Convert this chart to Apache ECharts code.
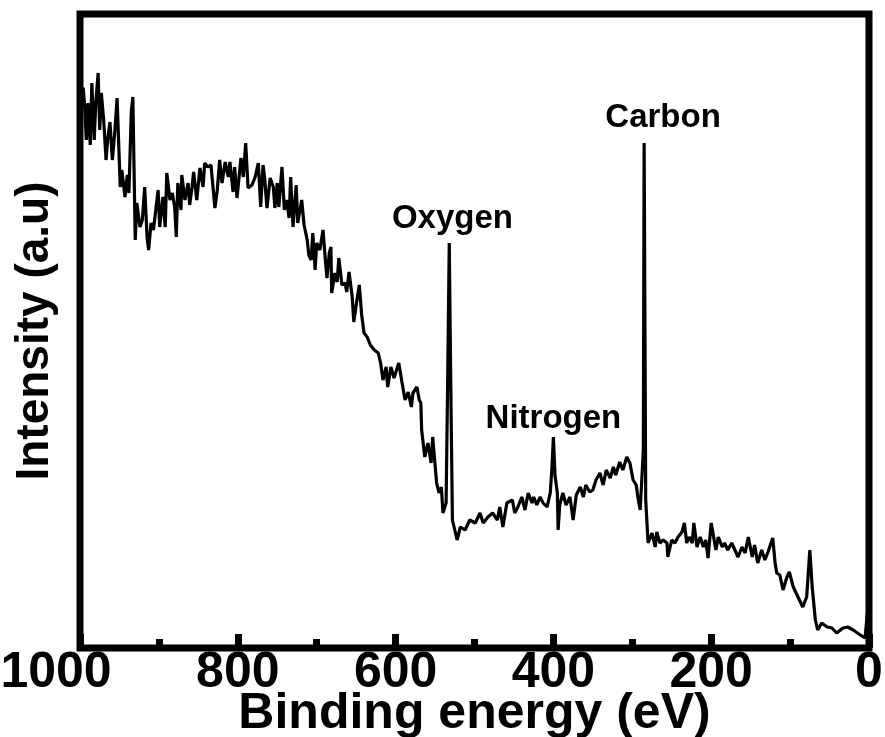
<!DOCTYPE html>
<html lang="en">
<head>
  <meta charset="UTF-8">
  <title>XPS survey spectrum</title>
  <script src="https://cdn.jsdelivr.net/npm/echarts@6/dist/echarts.min.js"></script>
  <style>
    html, body { margin: 0; padding: 0; background: #fff; }
    #chart { width: 885px; height: 737px; }
  </style>
</head>
<body>
  <div id="chart"></div>
  <script>
    var energy = [
      999, 996, 994, 992, 990, 987, 985, 982, 980, 977, 975, 973, 970, 967, 965, 962, 959, 956, 953, 949,
      947, 943, 940, 938, 935, 933, 930, 928, 924, 921, 918, 915, 913, 910, 907, 905, 901, 899, 895, 892,
      890, 886, 883, 880, 878, 876, 872, 871, 867, 863, 861, 858, 856, 852, 848, 844, 842, 838, 834, 829,
      826, 823, 820, 816, 812, 810, 806, 804, 801, 796, 793, 790, 787, 782, 778, 774, 771, 768, 766, 763,
      759, 755, 753, 750, 748, 744, 741, 738, 735, 733, 730, 726, 724, 719, 716, 712, 710, 707, 705, 702,
      700, 696, 692, 689, 687, 684, 682, 681, 677, 674, 672, 668, 664, 662, 659, 655, 653, 649, 646, 643,
      640, 636, 632, 627, 622, 619, 616, 612, 610, 606, 602, 598, 596, 592, 588, 584, 580, 578, 573, 570,
      568, 567, 563, 559, 555, 553, 548, 545, 542, 540, 536, 534, 532, 530, 528, 525, 522, 518, 512, 506,
      499, 493, 489, 483, 477, 471, 468, 464, 459, 452, 449, 445, 440, 436, 432, 427, 425, 421, 417, 413,
      408, 404, 402, 400, 398, 395, 394, 392, 388, 384, 379, 375, 371, 366, 362, 359, 354, 350, 346, 341,
      337, 333, 328, 324, 321, 316, 312, 307, 303, 299, 295, 293, 290, 286, 285, 283, 280, 275, 271, 269,
      265, 261, 256, 255, 250, 246, 242, 237, 234, 231, 228, 224, 222, 218, 214, 210, 207, 204, 200, 198,
      194, 191, 186, 183, 179, 174, 170, 166, 161, 157, 153, 148, 145, 141, 136, 132, 128, 122, 119, 117,
      113, 109, 104, 101, 96, 90, 84, 79, 75, 72, 68, 65, 60, 53, 47, 41, 33, 27, 20, 11,
      5, 2
    ];
    // intensity (a.u.)
    var intensity = [
      558, 560, 541, 508, 545, 503, 565, 508, 545, 575, 518, 555, 528, 488, 508, 526, 488, 515, 550, 461,
      478, 451, 473, 455, 536, 551, 408, 445, 421, 428, 461, 411, 398, 425, 418, 431, 458, 421, 451, 421,
      475, 448, 455, 441, 411, 465, 438, 473, 448, 465, 443, 461, 476, 448, 480, 461, 485, 481, 483, 440,
      458, 488, 465, 486, 471, 486, 456, 481, 450, 490, 471, 505, 460, 463, 471, 485, 441, 483, 470, 440,
      470, 461, 440, 465, 441, 481, 438, 448, 430, 471, 421, 463, 425, 448, 423, 408, 393, 388, 415, 378,
      405, 398, 418, 388, 370, 395, 401, 355, 375, 366, 390, 363, 365, 356, 376, 351, 326, 348, 363, 333,
      315, 311, 303, 298, 295, 285, 268, 281, 261, 281, 270, 280, 285, 266, 248, 256, 241, 255, 261, 248,
      245, 218, 191, 205, 185, 211, 165, 155, 161, 135, 145, 268, 405, 258, 128, 118, 108, 121, 118, 128,
      125, 135, 125, 131, 135, 128, 141, 121, 145, 148, 135, 141, 151, 138, 155, 145, 151, 143, 151, 145,
      141, 155, 178, 211, 173, 155, 118, 143, 155, 143, 151, 128, 153, 161, 151, 163, 156, 158, 168, 175,
      163, 178, 170, 181, 173, 186, 178, 191, 185, 168, 163, 151, 138, 198, 505, 148, 105, 115, 101, 116,
      105, 108, 105, 91, 108, 105, 111, 116, 125, 105, 111, 105, 125, 101, 111, 101, 108, 90, 125, 116,
      98, 111, 101, 105, 98, 105, 98, 91, 101, 95, 111, 91, 103, 85, 98, 88, 96, 110, 85, 75,
      73, 58, 71, 76, 61, 51, 41, 51, 98, 61, 28, 18, 25, 21, 20, 15, 20, 21, 18, 13,
      10, 35
    ];
    var xTicks = [0, 200, 400, 600, 800, 1000];

    // peak labels, placed in data units (energy, intensity of the label centre)
    var peakNames = ['Oxygen', 'Nitrogen', 'Carbon'];
    var peakLabelEnergy = [528, 400, 261];
    var peakLabelHeight = [429, 229, 530];

    var spectrum = [];
    for (var i = 0; i < energy.length; i++) {
      spectrum.push([energy[i], intensity[i]]);
    }

    var font = 'Liberation Sans, Arial, sans-serif';
    var oChart = echarts.init(document.getElementById('chart'), null, { renderer: 'canvas' });
    var option = {
      animation: false,
      backgroundColor: '#fff',
      grid: {
        show: true,
        left: 80,
        right: 16,
        top: 14,
        bottom: 89,
        outerBoundsMode: 'none',
        containLabel: false,
        borderColor: '#000',
        borderWidth: 7
      },
      xAxis: {
        type: 'value',
        min: 0,
        max: 1000,
        interval: 200,
        inverse: true,
        name: 'Binding energy (eV)',
        nameLocation: 'middle',
        nameGap: 41,
        nameMoveOverlap: false,
        nameTextStyle: { fontFamily: font, fontWeight: 'bold', fontSize: 50, lineHeight: 50, color: '#000' },
        axisLine: { show: false },
        axisTick: { show: true, inside: true, length: 14, lineStyle: { color: '#000', width: 7 } },
        minorTick: { show: true, splitNumber: 2, length: 9, lineStyle: { color: '#000', width: 7 } },
        splitLine: { show: false },
        minorSplitLine: { show: false },
        axisLabel: {
          margin: 0,
          fontFamily: font,
          fontWeight: 'bold',
          fontSize: 50,
          lineHeight: 50,
          color: '#000',
          formatter: function (v) {
            if (xTicks.indexOf(v) < 0) return '';
            // the left-most label sits pulled in toward the edge in the original
            return v === 1000 ? '{first|' + v + '}' : String(v);
          },
          rich: {
            first: {
              fontFamily: font,
              fontWeight: 'bold',
              fontSize: 50,
              lineHeight: 50,
              color: '#000',
              padding: [0, 48, 0, 0]
            }
          }
        }
      },
      yAxis: {
        type: 'value',
        min: 0,
        max: 634,
        name: 'Intensity (a.u)',
        nameLocation: 'middle',
        nameGap: 22,
        nameMoveOverlap: false,
        nameTextStyle: { fontFamily: font, fontWeight: 'bold', fontSize: 46, color: '#000' },
        axisLine: { show: false },
        axisTick: { show: false },
        axisLabel: { show: false },
        splitLine: { show: false }
      },
      series: [
        {
          type: 'line',
          data: spectrum,
          showSymbol: false,
          symbol: 'none',
          lineStyle: { color: '#000', width: 3.2 },
          z: 3
        }
      ]
    };
    oChart.setOption(option);

    // put the peak names on top, converted through the chart's own axes
    var texts = [];
    for (var j = 0; j < peakNames.length; j++) {
      var p = oChart.convertToPixel({ gridIndex: 0 }, [peakLabelEnergy[j], peakLabelHeight[j]]);
      texts.push({
        type: 'text',
        x: p[0],
        y: p[1],
        silent: true,
        style: {
          text: peakNames[j],
          align: 'center',
          verticalAlign: 'middle',
          fill: '#000',
          font: 'bold 33px ' + font
        }
      });
    }
    oChart.setOption({ graphic: texts });
  </script>
</body>
</html>
